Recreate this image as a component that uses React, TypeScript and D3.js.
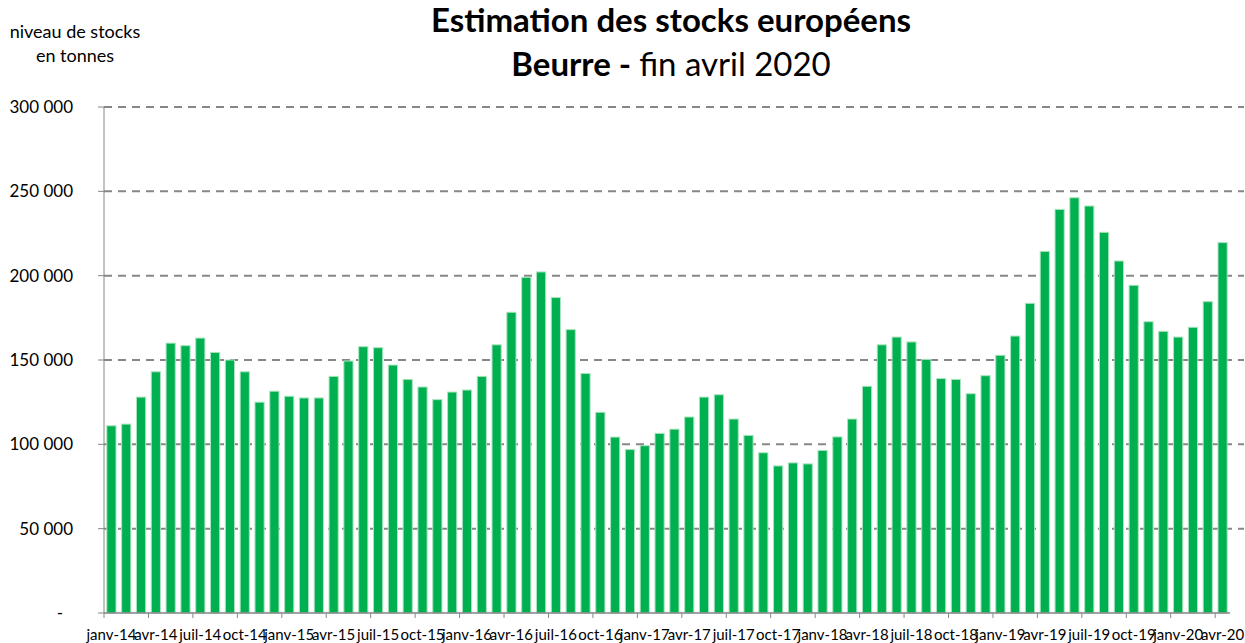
import React from "react";
import * as d3 from "d3";

const MONTHS = ["janv", "févr", "mars", "avr", "mai", "juin", "juil", "août", "sept", "oct", "nov", "déc"];
const YEARS = [14, 15, 16, 17, 18, 19, 20];

const stocks2014 = [111, 112, 128, 143, 160, 158.5, 163, 154.5, 150, 143, 125, 131.5];
const stocks2015 = [128.5, 127.5, 127.5, 140.3, 149.4, 157.9, 157.3, 147, 138.5, 134, 126.5, 131];
const stocks2016 = [132.2, 140.3, 159, 178.3, 199, 202.2, 187, 168, 142, 119, 104.3, 96.9];
const stocks2017 = [99.2, 106.5, 109, 116.2, 128, 129.4, 115, 105.3, 95, 87.2, 89, 88.4];
const stocks2018 = [96.4, 104.4, 115, 134.4, 159, 163.6, 160.7, 150.4, 139, 138.5, 130, 140.7];
const stocks2019 = [152.8, 164.2, 183.6, 214.4, 239.3, 246.2, 241.3, 225.7, 208.7, 194.3, 172.7, 167];
const stocks2020 = [163.6, 169.4, 184.6, 219.6];

const values = [...stocks2014, ...stocks2015, ...stocks2016, ...stocks2017, ...stocks2018, ...stocks2019, ...stocks2020].map((v) => v * 1000);
const categories: string[] = [];
YEARS.forEach((y) => MONTHS.forEach((m) => categories.push(`${m}-${y}`)));
const cats = categories.slice(0, values.length);

const yTicks = [0, 50000, 100000, 150000, 200000, 250000, 300000];

const W = 1245;
const H = 643;
const left = 104;
const right = 1230;
const top = 107;
const bottom = 613;
const FONT = "Lato, 'Open Sans', sans-serif";

export default function App() {
  const x = d3.scaleBand<string>().domain(cats).range([left, right]).paddingInner(0.38).paddingOuter(0.19);
  const y = d3.scaleLinear().domain([0, 300000]).range([bottom, top]);
  const step = x.step();
  const fmt = (v: number) => (v === 0 ? "-" : d3.format(",")(v).replace(/,/g, " "));
  const boundaries = d3.range(0, cats.length, 3);

  return (
    <svg width={W} height={H} style={{ position: "absolute", left: 0, top: 0 }} fontFamily={FONT}>
      <rect width={W} height={H} fill="#fff" />
      <text x={671} y={32} textAnchor="middle" fontSize={33} fontWeight="bold" fill="#000">
        Estimation des stocks européens
      </text>
      <text x={671} y={76} textAnchor="middle" fontSize={33} fill="#000">
        <tspan fontWeight="bold">Beurre - </tspan>
        <tspan>fin avril 2020</tspan>
      </text>
      <text x={75} y={38} textAnchor="middle" fontSize={18} fill="#000">niveau de stocks</text>
      <text x={75} y={62} textAnchor="middle" fontSize={18} fill="#000">en tonnes</text>

      {yTicks.filter((t) => t > 0).map((t) => (
        <line key={`g${t}`} x1={left} x2={1244} y1={y(t)} y2={y(t)} stroke="#868686" strokeWidth={2} strokeDasharray="8,6" />
      ))}
      {yTicks.map((t) => (
        <g key={`yt${t}`}>
          <line x1={left - 6} x2={left} y1={y(t)} y2={y(t)} stroke="#868686" strokeWidth={1} />
          <text x={t === 0 ? 63 : 73} y={y(t) + 6} textAnchor="end" fontSize={17} fill="#000">
            {fmt(t)}
          </text>
        </g>
      ))}
      <line x1={left} x2={left} y1={top} y2={bottom} stroke="#868686" strokeWidth={1} />

      {cats.map((c, i) => (
        <rect key={c} x={x(c)} y={y(values[i])} width={x.bandwidth()} height={bottom - y(values[i])} fill="#00B050" stroke="#a8e4bd" strokeWidth={1} />
      ))}

      <line x1={left} x2={right} y1={bottom} y2={bottom} stroke="#868686" strokeWidth={1.5} />
      {boundaries.map((b) => (
        <line key={`xt${b}`} x1={left + b * step} x2={left + b * step} y1={bottom} y2={bottom + 5} stroke="#868686" strokeWidth={1} />
      ))}
      {boundaries.map((b) => (
        <text key={`xl${b}`} x={(x(cats[b]) as number) + x.bandwidth() / 2} y={640} textAnchor="middle" fontSize={15} fill="#000">
          {cats[b]}
        </text>
      ))}
    </svg>
  );
}
